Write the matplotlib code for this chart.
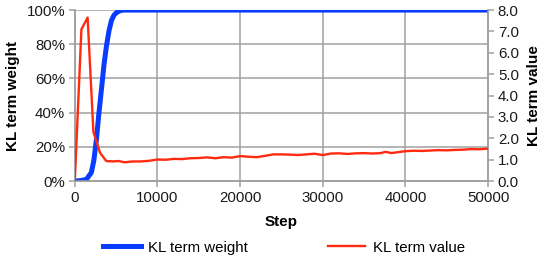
import matplotlib
matplotlib.use("Agg")
import matplotlib.pyplot as plt
from matplotlib.ticker import FuncFormatter, MultipleLocator

plt.rcParams['font.family'] = ['Liberation Sans', 'DejaVu Sans']

# KL term weight (fraction, left axis)
steps_w = [0, 700, 1400, 2000, 2300, 2620, 2900, 3230, 3530, 3830, 4140, 4440, 4740, 5040, 5400, 5850, 7000, 10000, 20000, 30000, 40000, 50000]
weight = [0.0, 0.003, 0.01, 0.05, 0.12, 0.245, 0.39, 0.54, 0.68, 0.79, 0.88, 0.94, 0.97, 0.985, 0.995, 1.0, 1.0, 1.0, 1.0, 1.0, 1.0, 1.0]

# KL term value (right axis)
steps_v = [0, 800, 1550, 2250, 3050, 3800, 4600, 5300, 6000, 7000, 8000, 9000, 10000, 11000, 12000,
           13000, 14000, 15000, 16000, 17000, 18000, 19000, 20000, 21000, 22000, 23000, 24000, 25000,
           26000, 27000, 28000, 29000, 30000, 31000, 32000, 33000, 34000, 35000, 36000, 37000, 37600,
           38300, 39000, 40000, 41000, 42000, 43000, 44000, 45000, 46000, 47000, 48000, 49000, 50000]
value = [0.0, 7.1, 7.65, 2.3, 1.33, 0.94, 0.92, 0.94, 0.88, 0.92, 0.92, 0.95, 1.01, 1.0, 1.04,
         1.03, 1.07, 1.08, 1.11, 1.07, 1.12, 1.1, 1.17, 1.14, 1.12, 1.18, 1.25, 1.25,
         1.24, 1.22, 1.25, 1.28, 1.22, 1.29, 1.3, 1.27, 1.3, 1.31, 1.29, 1.31, 1.37,
         1.31, 1.35, 1.4, 1.42, 1.41, 1.43, 1.45, 1.44, 1.46, 1.47, 1.5, 1.49, 1.52]

fig = plt.figure(figsize=(5.46, 2.58), dpi=100)
ax = fig.add_axes([0.137, 0.298, 0.757, 0.663])
ax2 = ax.twinx()

gray = '#a0a0a0'
ax.set_xlim(0, 50000)
ax.set_ylim(0, 1)
ax2.set_ylim(0, 8)
ax.xaxis.set_major_locator(MultipleLocator(10000))
ax.yaxis.set_major_locator(MultipleLocator(0.2))
ax2.yaxis.set_major_locator(MultipleLocator(1.0))
ax.yaxis.set_major_formatter(FuncFormatter(lambda v, p: f"{v*100:.0f}%"))
ax2.yaxis.set_major_formatter(FuncFormatter(lambda v, p: f"{v:.1f}"))

ax.grid(True, color=gray, lw=1.1)
ax.set_axisbelow(True)
for a in (ax, ax2):
    a.spines['top'].set_visible(False)
    for s in ('left', 'right', 'bottom'):
        a.spines[s].set_color(gray)
        a.spines[s].set_linewidth(1.1)
    a.tick_params(colors=gray, labelcolor='#1a1a1a', labelsize=10.8, length=4, width=1.1, pad=3)

l1, = ax.plot(steps_w, weight, color='#0a3cff', lw=3.6, label='KL term weight', zorder=3)
l2, = ax2.plot(steps_v, value, color='#ff2a10', lw=1.7, label='KL term value', zorder=4)

ax.set_xlabel('Step', fontsize=11, fontweight='bold', labelpad=7)
ax.set_ylabel('KL term weight', fontsize=11, fontweight='bold', labelpad=5)
ax2.set_ylabel('KL term value', fontsize=11, fontweight='bold', labelpad=6)

fig.legend([l1, l2], ['KL term weight', 'KL term value'], loc='center', bbox_to_anchor=(0.52, 0.04),
           ncol=2, frameon=False, fontsize=10.8, handlelength=2.5, columnspacing=5.3, handletextpad=0.5)

fig.savefig('out.png', dpi=100)
